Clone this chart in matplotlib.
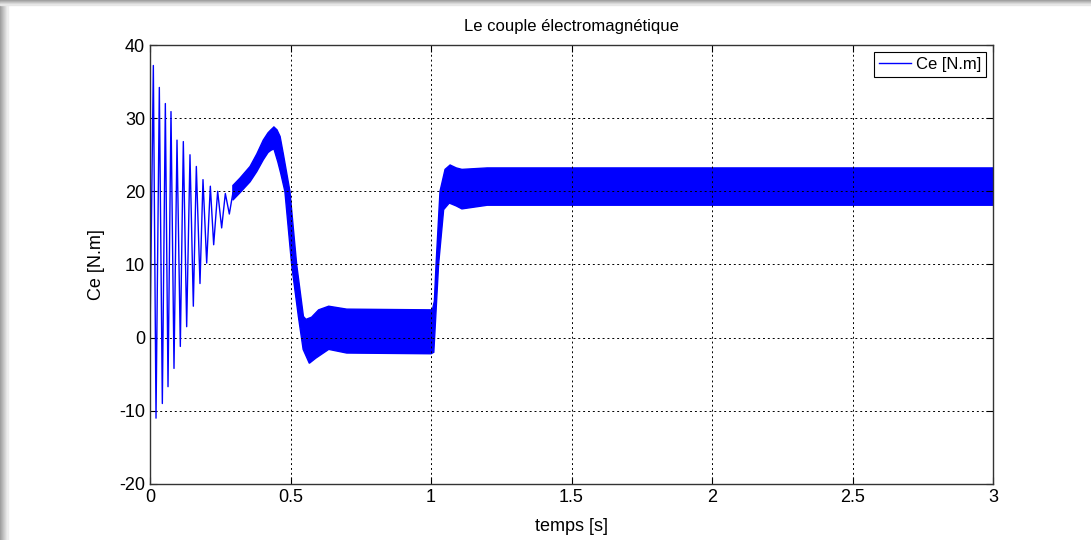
import matplotlib
matplotlib.use("Agg")
import matplotlib.pyplot as plt
from matplotlib.patches import Rectangle
import numpy as np

# start-up transient: successive peaks (time [s], torque [N.m])
t_start = [0.0, 0.0119, 0.0214, 0.0332, 0.0439, 0.0546, 0.0641, 0.0747, 0.0854,
           0.0961, 0.1079, 0.1186, 0.1305, 0.1423, 0.1542, 0.1649, 0.1779, 0.1886,
           0.2017, 0.2147, 0.2266, 0.2408, 0.2550, 0.2681, 0.2823, 0.2950]
ce_start = [0.0, 37.2, -11.0, 34.2, -9.0, 32.0, -6.7, 30.9, -4.2,
            27.0, -1.2, 26.8, 1.5, 25.0, 4.3, 23.4, 7.4, 21.6,
            10.2, 20.7, 12.7, 20.0, 15.0, 19.7, 16.9, 19.8]

# ripple band, upper envelope
t_up = [0.295, 0.32, 0.356, 0.38, 0.403, 0.42, 0.43, 0.441, 0.452, 0.463, 0.475,
        0.498, 0.522, 0.546, 0.555, 0.575, 0.60, 0.636, 0.70, 1.005, 1.012, 1.018,
        1.032, 1.05, 1.068, 1.09, 1.11, 1.2, 3.0]
ce_up = [20.8, 21.8, 23.4, 25.1, 27.0, 28.0, 28.4, 28.8, 28.4, 27.5, 25.0,
         20.0, 10.0, 2.9, 2.5, 2.8, 3.8, 4.3, 3.9, 3.8, 5.0, 10.0,
         20.0, 23.0, 23.6, 23.2, 23.0, 23.2, 23.2]

# ripple band, lower envelope
t_lo = [0.295, 0.32, 0.356, 0.38, 0.403, 0.42, 0.43, 0.441, 0.455, 0.465, 0.480,
        0.504, 0.528, 0.545, 0.567, 0.59, 0.636, 0.70, 1.0, 1.01, 1.027, 1.045,
        1.065, 1.09, 1.11, 1.2, 3.0]
ce_lo = [18.8, 19.8, 21.3, 22.7, 24.3, 25.3, 25.6, 25.8, 24.0, 22.5, 20.0,
         10.0, 2.9, -1.6, -3.5, -2.8, -1.6, -2.1, -2.2, -2.0, 10.0, 17.5,
         18.4, 18.0, 17.6, 18.1, 18.1]

x_ticks = [0, 0.5, 1, 1.5, 2, 2.5, 3]
x_labels = ["0", "0.5", "1", "1.5", "2", "2.5", "3"]
y_ticks = [-20, -10, 0, 10, 20, 30, 40]

plt.rcParams["font.family"] = ["Liberation Sans", "DejaVu Sans"]
plt.rcParams["axes.unicode_minus"] = False

fig = plt.figure(figsize=(10.91, 5.40), dpi=100)
ax = fig.add_axes([150 / 1091, 56 / 540, 843 / 1091, 439 / 540])

blue = (0, 0, 1)
ax.plot(t_start, ce_start, color=blue, lw=1.0, label="Ce [N.m]")
band_t = np.concatenate([t_up, t_lo[::-1]])
band_v = np.concatenate([ce_up, ce_lo[::-1]])
ax.fill(band_t, band_v, color=blue, lw=1.0, ec=blue)

ax.set_xlim(0, 3)
ax.set_ylim(-20, 40)
ax.set_xticks(x_ticks)
ax.set_xticklabels(x_labels)
ax.set_yticks(y_ticks)
ax.tick_params(direction="in", labelsize=13, length=5, top=True, right=True, colors="black")
ax.grid(True, color="black", linestyle=(0, (2, 3)), linewidth=0.7)
for s in ax.spines.values():
    s.set_color("#333333")
    s.set_linewidth(1.0)

ax.set_title("Le couple électromagnétique", fontsize=12, pad=10)
ax.set_xlabel("temps [s]", fontsize=13, labelpad=9)
ax.set_ylabel("Ce [N.m]", fontsize=13, labelpad=10)

leg = ax.legend(loc="upper right", fontsize=12, fancybox=False, framealpha=1,
                edgecolor="black", handlelength=1.9, handletextpad=0.3,
                borderpad=0.3, borderaxespad=0.4)
leg.get_frame().set_linewidth(0.8)

# screenshot shadow along top and left edges
for i in range(8):
    g = 0.62 + 0.045 * i
    fig.patches.append(Rectangle((i / 1091, 0), 1 / 1091, 1, transform=fig.transFigure,
                                 color=(g, g, g), zorder=-1))
for i in range(5):
    g = 0.62 + 0.07 * i
    fig.patches.append(Rectangle((0, 1 - (i + 1) / 540), 1, 1 / 540, transform=fig.transFigure,
                                 color=(g, g, g), zorder=-1))

fig.savefig("out.png", dpi=100)
